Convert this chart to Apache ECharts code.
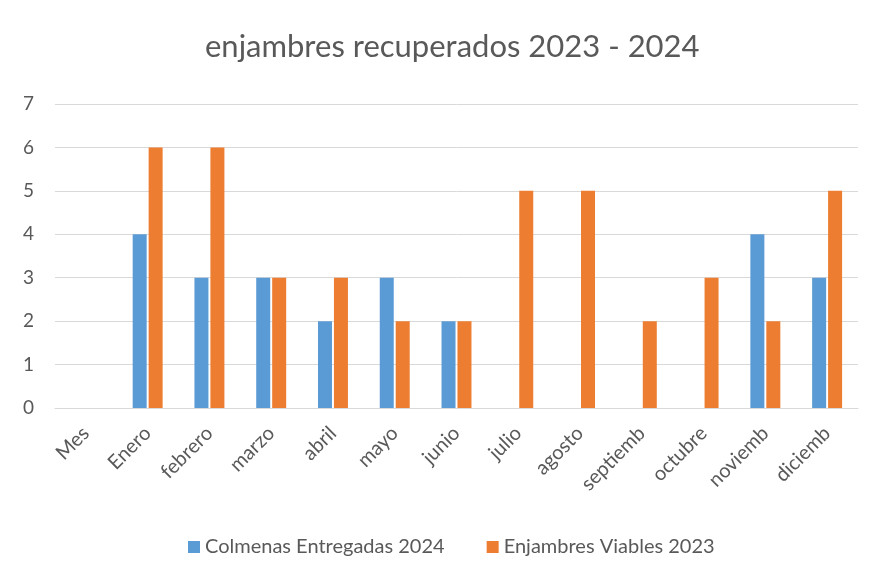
<!DOCTYPE html>
<html><head><meta charset="utf-8">
<script src="https://cdn.jsdelivr.net/npm/echarts@6/dist/echarts.min.js"></script>
<style>html,body{margin:0;padding:0;background:#fff}#c{width:870px;height:582px}</style>
</head><body><div id="c"></div>
<script>
const categories = ['Mes','Enero','febrero','marzo','abril','mayo','junio','julio','agosto','septiemb','octubre','noviemb','diciemb'];
const colmenas2024 = [null,4,3,3,2,3,2,null,null,null,null,4,3];
const enjambres2023 = [null,6,6,3,3,2,2,5,5,2,3,2,5];
const seriesNames = ['Colmenas Entregadas 2024','Enjambres Viables 2023'];
const titleText = 'enjambres recuperados 2023 - 2024';
const FONT = 'Lato';
const chart = echarts.init(document.getElementById('c'));
chart.setOption({
  backgroundColor:'#fff',
  animation:false,
  title:{text:titleText,left:200,top:26,textStyle:{fontFamily:FONT,fontSize:31,fontWeight:'normal',color:'#595959'}},
  grid:{left:55,right:12,top:104,bottom:174},
  legend:{bottom:20,left:183,itemWidth:12,itemHeight:12,itemGap:42,icon:'rect',
    textStyle:{fontFamily:FONT,fontSize:20,color:'#595959'},data:seriesNames},
  xAxis:{type:'category',data:categories,
    axisLine:{lineStyle:{color:'#d9d9d9'}},axisTick:{show:false},
    axisLabel:{rotate:45,interval:0,fontFamily:FONT,fontSize:20,color:'#595959',margin:22}},
  yAxis:{type:'value',min:0,max:7,interval:1,
    axisLabel:{fontFamily:FONT,fontSize:19,color:'#595959',margin:21}, 
    splitLine:{lineStyle:{color:'#d9d9d9'}}},
  series:[
    {name:seriesNames[0],type:'bar',data:colmenas2024,itemStyle:{color:'#5b9bd5'},barWidth:14,barGap:'14%'},
    {name:seriesNames[1],type:'bar',data:enjambres2023,itemStyle:{color:'#ed7d31'},barWidth:14}
  ]
});
</script></body></html>
